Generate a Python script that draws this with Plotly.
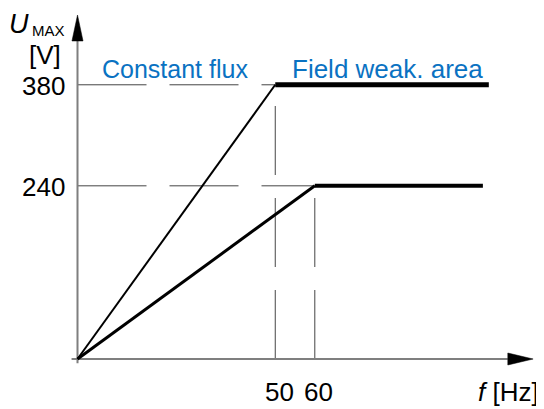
import plotly.graph_objects as go

# ---- data ----
f_380 = [0, 50, 104]        # Hz
u_380 = [0, 380, 380]       # V
f_240 = [0, 60, 102.5]      # Hz
u_240 = [0, 240, 240]       # V
f_ticks = [50, 60]
u_ticks = [380, 240]
region_labels = ["Constant flux", "Field weak. area"]

# page body has an 8px margin; figure is sized to fit the window
OFF = 8
W, H = 544 - OFF, 409 - OFF
X0_PX, Y0_PX = 77.5 - OFF, 359.0 - OFF
PX_PER_HZ, PX_PER_V = 3.955, 0.7216
x_range = [-X0_PX / PX_PER_HZ, (W - X0_PX) / PX_PER_HZ]
y_range = [-(H - Y0_PX) / PX_PER_V, Y0_PX / PX_PER_V]

X_AXIS_END, Y_AXIS_END = 115.2, 476.7
ARROW_LEN_X, ARROW_HALF_X = 6.4, 8.3
ARROW_LEN_Y, ARROW_HALF_Y = 36.0, 1.4

FONT = "Liberation Sans, Arial, sans-serif"
BLUE = "#0a72c2"
AXIS_GRAY = "#7f7f7f"
GUIDE = "#454545"
DASH = "69px,23px"

fig = go.Figure()

def line(xs, ys, width, color="black", dash=None):
    fig.add_trace(go.Scatter(x=xs, y=ys, mode="lines", hoverinfo="skip",
                             line=dict(color=color, width=width, dash=dash),
                             showlegend=False))

# dashed guide lines (start from axes)
line([0, f_380[1]], [u_380[1], u_380[1]], 1, GUIDE, DASH)
line([0, f_240[1]], [u_240[1], u_240[1]], 1, GUIDE, DASH)
line([f_380[1], f_380[1]], [0, u_380[1]], 1, GUIDE, DASH)
line([f_240[1], f_240[1]], [0, u_240[1]], 1, GUIDE, DASH)

# axes
line([-1.5, X_AXIS_END - ARROW_LEN_X], [0, 0], 2, AXIS_GRAY)
line([0, 0], [-6, Y_AXIS_END - ARROW_LEN_Y], 2, AXIS_GRAY)
fig.add_trace(go.Scatter(
    x=[X_AXIS_END - ARROW_LEN_X, X_AXIS_END, X_AXIS_END - ARROW_LEN_X, X_AXIS_END - ARROW_LEN_X],
    y=[ARROW_HALF_X, 0, -ARROW_HALF_X, ARROW_HALF_X],
    mode="lines", fill="toself", fillcolor="black", line=dict(color="black", width=0.5),
    hoverinfo="skip", showlegend=False))
fig.add_trace(go.Scatter(
    x=[-ARROW_HALF_Y, 0, ARROW_HALF_Y, -ARROW_HALF_Y],
    y=[Y_AXIS_END - ARROW_LEN_Y, Y_AXIS_END, Y_AXIS_END - ARROW_LEN_Y, Y_AXIS_END - ARROW_LEN_Y],
    mode="lines", fill="toself", fillcolor="black", line=dict(color="black", width=0.5),
    hoverinfo="skip", showlegend=False))

# characteristic curves
line(f_380[:2], u_380[:2], 2)
line(f_380[1:], u_380[1:], 5)
line(f_240[:2], u_240[:2], 3)
line(f_240[1:], u_240[1:], 4)

ann = []
for u in u_ticks:
    ann.append(dict(x=0, y=u, xref="x", yref="y", text=str(u), showarrow=False,
                    xanchor="right", yanchor="middle", xshift=-11, yshift=-1,
                    font=dict(size=26, color="black", family=FONT)))
for f in f_ticks:
    ann.append(dict(x=f, y=0, xref="x", yref="y", text=str(f), showarrow=False,
                    xanchor="center", yanchor="middle", xshift=4, yshift=-33,
                    font=dict(size=26, color="black", family=FONT)))

def paper(px, py):
    return (px - OFF) / W, 1 - (py - OFF) / H

x, y = paper(100, 69)
ann.append(dict(x=x, y=y, xref="paper", yref="paper", text=region_labels[0], showarrow=False,
                xanchor="left", yanchor="middle", font=dict(size=25, color=BLUE, family=FONT)))
x, y = paper(290, 69)
ann.append(dict(x=x, y=y, xref="paper", yref="paper", text=region_labels[1], showarrow=False,
                xanchor="left", yanchor="middle", font=dict(size=26, color=BLUE, family=FONT)))
x, y = paper(541, 392)
ann.append(dict(x=x, y=y, xref="paper", yref="paper", text="<i>f</i> [Hz]", showarrow=False,
                xanchor="right", yanchor="middle", font=dict(size=26, color="black", family=FONT)))
x, y = paper(30, 8)
ann.append(dict(x=x, y=y, xref="paper", yref="paper", text="<i>U</i>", showarrow=False,
                xanchor="right", yanchor="top", borderpad=0,
                font=dict(size=27, color="black", family=FONT)))
x, y = paper(30, 30)
ann.append(dict(x=x, y=y, xref="paper", yref="paper", text="MAX", showarrow=False,
                xanchor="left", yanchor="middle", font=dict(size=15, color="black", family=FONT)))
x, y = paper(63, 55)
ann.append(dict(x=x, y=y, xref="paper", yref="paper", text="[V]", showarrow=False,
                xanchor="right", yanchor="middle", font=dict(size=26, color="black", family=FONT)))

fig.update_layout(
    width=W, height=H, margin=dict(l=0, r=0, t=0, b=0),
    paper_bgcolor="white", plot_bgcolor="white",
    xaxis=dict(range=x_range, visible=False, fixedrange=True),
    yaxis=dict(range=y_range, visible=False, fixedrange=True),
    annotations=ann, showlegend=False,
)
fig.write_html("out.html")
